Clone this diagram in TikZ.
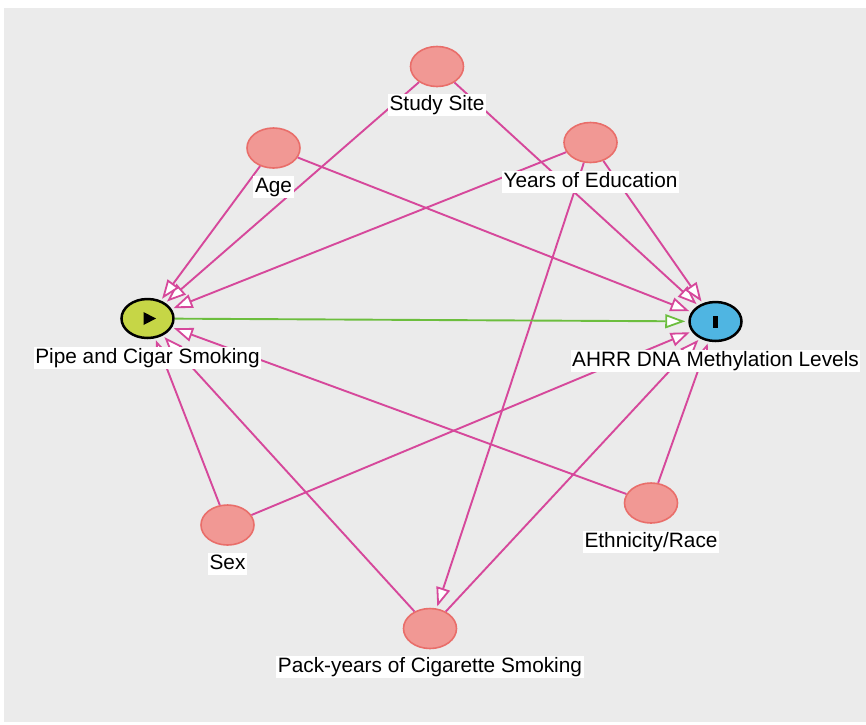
\documentclass[tikz,border=0pt]{standalone}
\usepackage{fontspec}
\setmainfont{Liberation Sans}
\usetikzlibrary{shapes.geometric,arrows.meta,calc}
\definecolor{bggray}{RGB}{235,235,235}
\definecolor{edgepink}{RGB}{214,72,155}
\definecolor{nodepink}{RGB}{241,152,148}
\definecolor{nodeborder}{RGB}{233,110,106}
\definecolor{edgegreen}{RGB}{108,190,62}
\definecolor{expfill}{RGB}{198,214,70}
\definecolor{outfill}{RGB}{79,181,226}
\tikzset{
  var/.style={ellipse, minimum width=53pt, minimum height=40pt, inner sep=0pt,
    fill=nodepink, draw=nodeborder, line width=1.6pt},
  expo/.style={ellipse, minimum width=52pt, minimum height=39pt, inner sep=0pt,
    fill=expfill, draw=black, line width=2.5pt},
  outc/.style={ellipse, minimum width=52pt, minimum height=39pt, inner sep=0pt,
    fill=outfill, draw=black, line width=2.5pt},
  lbl/.style={fill=white, inner xsep=1.5pt, inner ysep=1pt, text height=15.5pt,
    text depth=4.5pt, font=\fontsize{20.8}{25}\selectfont, text=black},
  edge/.style={draw=edgepink, line width=1.9pt, shorten >=2pt,
    -{Triangle[length=19pt,width=14pt,fill=white,line width=1.8pt]}},
  causal/.style={draw=edgegreen, line width=1.9pt, shorten >=3pt,
    -{Triangle[length=20pt,width=14pt,fill=white,line width=1.8pt]}}
}
\begin{document}
\begin{tikzpicture}[x=1pt,y=-1pt]
\useasboundingbox (0,0) rectangle (866,724);
\fill[white] (0,0) rectangle (866,724);
\fill[bggray] (4,8) rectangle (866,722);
% variables
\node[var] (study) at (437,66.5) {};
\node[var] (age) at (273.5,148) {};
\node[var] (edu) at (590.5,142.5) {};
\node[expo] (pipe) at (147.5,318.5) {};
\node[outc] (ahrr) at (715.5,321.5) {};
\node[var] (sex) at (227.5,525) {};
\node[var] (eth) at (651,503) {};
\node[var] (pack) at (430,628.5) {};
% icons
\fill[black] ($(pipe.center)+(-4,-6.5)$) -- ($(pipe.center)+(8.5,0)$) -- ($(pipe.center)+(-4,6.5)$) -- cycle;
\fill[black] ($(ahrr.center)+(-2.5,-6)$) rectangle ($(ahrr.center)+(2.5,6)$);
% edges
\draw[edge] (study) -- (pipe);
\draw[edge] (study) -- (ahrr);
\draw[edge] (age) -- (pipe);
\draw[edge] (age) -- (ahrr);
\draw[edge] (edu) -- (pipe);
\draw[edge] (edu) -- (ahrr);
\draw[edge] (edu) -- (pack);
\draw[edge] (sex) -- (pipe);
\draw[edge] (sex) -- (ahrr);
\draw[edge] (eth) -- (pipe);
\draw[edge] (eth) -- (ahrr);
\draw[edge] (pack) -- (pipe);
\draw[edge] (pack) -- (ahrr);
\draw[causal] (pipe) -- (ahrr);
% labels
\node[lbl] (lstudy) at ($(study.center)+(0,38.5)$) {Study Site};
\node[lbl] (lage) at ($(age.center)+(0,39)$) {Age};
\node[lbl] (ledu) at ($(edu.center)+(0,39)$) {Years of Education};
\node[lbl] (lpipe) at ($(pipe.center)+(0,39)$) {Pipe and Cigar Smoking};
\node[lbl] (lahrr) at ($(ahrr.center)+(0,39)$) {AHRR DNA Methylation Levels};
\node[lbl] (lsex) at ($(sex.center)+(0,38.5)$) {Sex};
\node[lbl] (leth) at ($(eth.center)+(0,39)$) {Ethnicity/Race};
\node[lbl] (lpack) at ($(pack.center)+(0,38.5)$) {Pack-years of Cigarette Smoking};
\end{tikzpicture}
\end{document}
